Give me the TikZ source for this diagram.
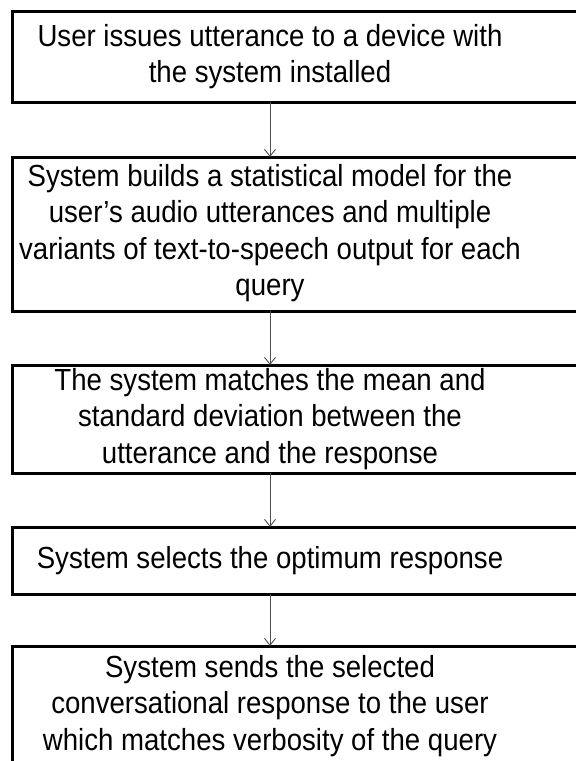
\documentclass[tikz,border=0pt]{standalone}
\usepackage{fontspec}
\setmainfont{Liberation Sans}[FakeStretch=0.905]
\usetikzlibrary{arrows.meta}
\definecolor{arrgray}{RGB}{80,80,80}
\begin{document}
\begin{tikzpicture}[x=1pt,y=-1pt,
  box/.style={draw=black, line width=3pt, fill=white, minimum width=600pt, inner sep=0pt, outer sep=0pt, anchor=north west},
  txt/.style={align=center, font=\fontsize{30.5}{36.5}\selectfont, inner sep=0pt},
  arr/.style={draw=arrgray, line width=0.9pt, -{Straight Barb[length=7pt,width=11pt]}}]
\useasboundingbox (0,0) rectangle (576,761);
\clip (0,0) rectangle (576,761);
\fill[white] (0,0) rectangle (576,761);
\node[box, minimum height=91pt] (b1) at (12,11) {};
\node[box, minimum height=154pt] (b2) at (12,157) {};
\node[box, minimum height=108pt] (b3) at (12,365) {};
\node[box, minimum height=67pt] (b4) at (12,527) {};
\node[box, minimum height=180pt] (b5) at (12,646) {};
\node[txt] (t1) at (270,56.5) {User issues utterance to a device with\\the system installed};
\node[txt] (t2) at (270,233) {System builds a statistical model for the\\user’s audio utterances and multiple\\variants of text-to-speech output for each\\query};
\node[txt] (t3) at (270,419) {The system matches the mean and\\standard deviation between the\\utterance and the response};
\node[txt] (t4) at (270,560.5) {System selects the optimum response};
\node[txt] (t5) at (270,706) {System sends the selected\\conversational response to the user\\which matches verbosity of the query};
\draw[arr] (t1 |- b1.south) -- (t1 |- b2.north);
\draw[arr] (t1 |- b2.south) -- (t1 |- b3.north);
\draw[arr] (t1 |- b3.south) -- (t1 |- b4.north);
\draw[arr] (t1 |- b4.south) -- (t1 |- b5.north);
\end{tikzpicture}
\end{document}
